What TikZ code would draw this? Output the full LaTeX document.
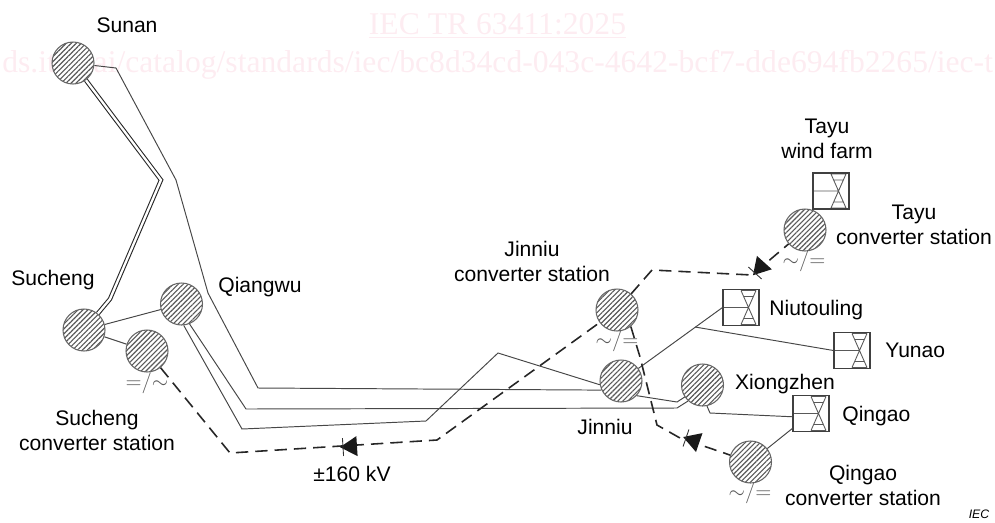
\documentclass[tikz,border=0pt]{standalone}
\usepackage{fontspec}
\setmainfont{Liberation Sans}
\newfontfamily\markfont{Liberation Serif}
\usetikzlibrary{calc,patterns.meta}
\definecolor{markpink}{RGB}{253,236,241}

\begin{document}
\begin{tikzpicture}[x=0.02cm,y=-0.02cm,
bus/.style={circle, draw=black!60, line width=0.6pt, minimum size=0.84cm, inner sep=0pt, preaction={fill=white}, pattern={Lines[angle=45,distance=2pt,line width=0.65pt]}, pattern color=black!65},
farm/.style={rectangle, draw=black!75, line width=0.6pt, minimum size=0.72cm, inner sep=0pt, path picture={
  \draw[shift={(path picture bounding box.center)}, line width=0.5pt, black!65] (-18,0) -- (7.5,0) (0,-17) -- (15,17) (15,-17) -- (0,17) (0,-17) -- (15,-17) (0,17) -- (15,17) (3,-11) -- (12,-11) (3,11) -- (12,11);}},
lbl/.style={font=\fontsize{12}{14.2}\selectfont, align=center, inner sep=0pt},
conv/.style={font=\fontsize{12}{14}\selectfont, text=black!65, inner sep=0pt},
feeder/.style={draw=black!72, line width=0.55pt},
hvdc/.style={draw=black!85, line width=0.9pt, dash pattern=on 7pt off 4pt},
valve/.pic={\fill[black!90] (3,0) -- (-14,-10) -- (-14,10) -- cycle; \draw[black!80, line width=0.5pt] (0,-9) -- (0,9);}]
\useasboundingbox (0,0) rectangle (995,522);
\node[font=\fontsize{18}{20}\selectfont\markfont, text=markpink, inner sep=0pt, anchor=base] (markA) at (497.5,34) {\underline{IEC TR 63411:2025}};
\node[font=\fontsize{18}{20}\selectfont\markfont, text=markpink, inner sep=0pt, anchor=base west] (markB) at (2,72) {ds.iteh.ai/catalog/standards/iec/bc8d34cd-043c-4642-bcf7-dde694fb2265/iec-t};
\node[bus] (sunan) at (73,63) {};
\node[bus] (sucheng) at (84,330) {};
\node[bus] (qiangwu) at (181.5,304) {};
\node[bus] (suchengConv) at (147,351) {};
\node[bus] (jinniuConv) at (617,310) {};
\node[bus] (jinniu) at (621,381) {};
\node[bus] (xiongzhen) at (702.5,385) {};
\node[bus] (qingaoConv) at (750.5,462) {};
\node[bus] (tayuConv) at (805,230) {};
\node[farm] (tayuFarm) at (831,191) {};
\node[farm] (niutouling) at (741,307.5) {};
\node[farm] (yunao) at (852,350.5) {};
\node[farm] (qingao) at (811,413.5) {};
\coordinate (yunaoTap) at (695,327);
\draw[draw=black!85, line width=0.6pt, double=white, double distance=1.3pt] (sunan) -- (161,180) -- (110,299) -- (sucheng);
\draw[feeder] (sunan) -- (116,68) -- (176,180) -- (208,293) -- (258,388) -- (jinniu.205);
\draw[feeder] (qiangwu.-68) -- (246,409) -- (677,408) -- (xiongzhen.228);
\draw[feeder] (qiangwu.-84) -- (242,429) -- (426,421) -- (498,353) -- (jinniu.190);
\draw[feeder] (jinniu.-43) -- (677,402) -- (xiongzhen.214);
\draw[feeder] (sucheng) -- (qiangwu);
\draw[feeder] (sucheng) -- (suchengConv);
\draw[feeder] (jinniu) -- (niutouling.west);
\draw[feeder] (yunaoTap) -- (yunao.west);
\draw[feeder] (xiongzhen.-78) -- (710,413) -- (qingao.190);
\draw[feeder] (qingaoConv) -- (qingao);
\draw[hvdc] (suchengConv) -- (230,453) -- (437,440) -- (jinniuConv);
\draw[hvdc] (jinniuConv) -- (652,270) -- (752,275) -- (tayuConv);
\draw[hvdc] (jinniuConv.-50) -- (640,357) -- (657,425) -- (680,438) -- (qingaoConv);
\pic[rotate=183.6] at (343,447) {valve};
\pic[rotate=228] at (755,273) {valve};
\pic[rotate=161] at (686,438) {valve};
\node[conv] (suchengSym) at (147,383) {${=}{/}{\sim}$};
\node[conv] (jinniuSym) at (617,341) {${\sim}{/}{=}$};
\node[conv] (qingaoSym) at (750,493) {${\sim}{/}{=}$};
\node[conv] (tayuSym) at (804,261) {${\sim}{/}{=}$};
\node[lbl] (sunanLbl) at (127,25) {Sunan};
\node[lbl] (suchengLbl) at (53,280) {Sucheng};
\node[lbl] (qiangwuLbl) at (260,287) {Qiangwu};
\node[lbl] (suchengConvLbl) at (97,430) {Sucheng\\converter station};
\node[lbl] (voltLbl) at (352,474) {±160 kV};
\node[lbl] (jinniuLbl) at (605,427) {Jinniu};
\node[lbl] (jinniuConvLbl) at (532,261) {Jinniu\\converter station};
\node[lbl, anchor=west] (niutoulingLbl) at (769,310) {Niutouling};
\node[lbl, anchor=west] (yunaoLbl) at (885,350) {Yunao};
\node[lbl] (xiongzhenLbl) at (785,384) {Xiongzhen};
\node[lbl, anchor=west] (qingaoLbl) at (842,416) {Qingao};
\node[lbl] (qingaoConvLbl) at (863,485) {Qingao\\converter station};
\node[lbl] (tayuConvLbl) at (914,225) {Tayu\\converter station};
\node[lbl] (tayuFarmLbl) at (827,139) {Tayu\\wind farm};
\node[font=\fontsize{7}{8}\selectfont\itshape, inner sep=0pt] (iecLbl) at (979,514) {IEC};
\end{tikzpicture}
\end{document}
